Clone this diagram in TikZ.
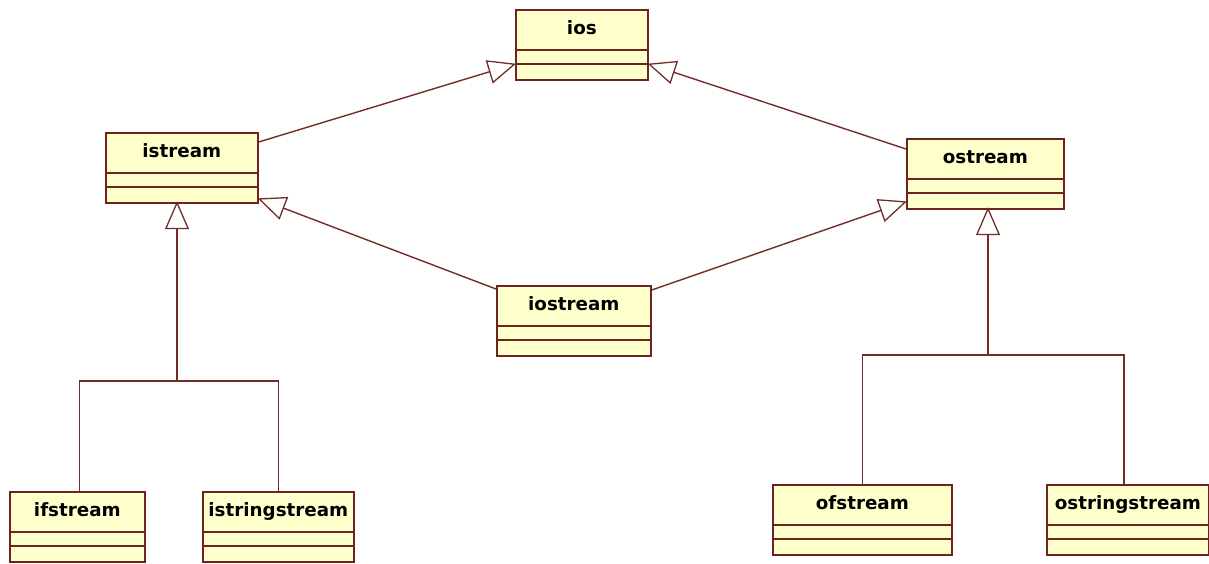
\documentclass[tikz,border=0pt]{standalone}
\usepackage{fontspec}
\setmainfont{DejaVu Sans}
\usetikzlibrary{arrows.meta}
\definecolor{classfill}{RGB}{255,255,204}
\definecolor{classline}{RGB}{110,35,30}
\definecolor{linkline}{RGB}{115,45,40}
\tikzset{
  umlclass/.style={
    draw=classline, fill=classfill, line width=1.7pt,
    anchor=north west, inner xsep=2pt, inner ysep=0pt,
    minimum height=70pt, text height=25pt, text depth=45pt,
    font=\fontsize{18.3}{20}\selectfont\bfseries, text=black,
    path picture={
      \draw[classline, line width=1.5pt]
        ([yshift=-40pt]path picture bounding box.north west) -- ([yshift=-40pt]path picture bounding box.north east)
        ([yshift=-54pt]path picture bounding box.north west) -- ([yshift=-54pt]path picture bounding box.north east);
    }
  },
  inherit/.style={
    draw=linkline, line width=1.4pt, shorten >=-1pt,
    -{Triangle[open, length=28pt, width=24pt, line width=1.3pt]}
  },
  branch/.style={draw=linkline, line width=1.4pt}
}
\begin{document}
\begin{tikzpicture}[x=1pt, y=-1pt]
  \useasboundingbox (0,0) rectangle (1209,563);
  \fill[white] (0,0) rectangle (1209,563);

  % class boxes
  \node[umlclass, minimum width=132pt] (ios)           at (515,9)   {ios};
  \node[umlclass, minimum width=152pt] (istream)       at (105,132) {istream};
  \node[umlclass, minimum width=157pt] (ostream)       at (906,138) {ostream};
  \node[umlclass, minimum width=154pt] (iostream)      at (496,285) {iostream};
  \node[umlclass, minimum width=135pt] (ifstream)      at (9,491)   {ifstream};
  \node[umlclass, minimum width=151pt] (istringstream) at (202,491) {istringstream};
  \node[umlclass, minimum width=179pt] (ofstream)      at (772,484) {ofstream};
  \node[umlclass, minimum width=162pt] (ostringstream) at (1046,484) {ostringstream};

  % generalisations towards ios
  \draw[inherit] ([yshift=-10pt]istream.north east) -- ([yshift=-55pt]ios.north west);
  \draw[inherit] ([yshift=-11pt]ostream.north west) -- ([yshift=-55pt]ios.north east);

  % iostream derives from both
  \draw[inherit] ([yshift=-4pt]iostream.north west) -- ([yshift=5pt]istream.south east);
  \draw[inherit] ([yshift=-5pt]iostream.north east) -- ([yshift=8pt]ostream.south west);

  % input stream tree
  \coordinate (isplit) at (177,381);
  \draw[branch] ([xshift=2pt]ifstream.north) |- (isplit) -| (istringstream.north);
  \draw[inherit, shorten >=-2.5pt] (isplit) -- (isplit |- istream.south);

  % output stream tree
  \coordinate (osplit) at (988,355);
  \draw[branch] (ofstream.north) |- (osplit) -| ([xshift=-4pt]ostringstream.north);
  \draw[inherit, shorten >=-2.5pt] (osplit) -- (osplit |- ostream.south);
\end{tikzpicture}
\end{document}
